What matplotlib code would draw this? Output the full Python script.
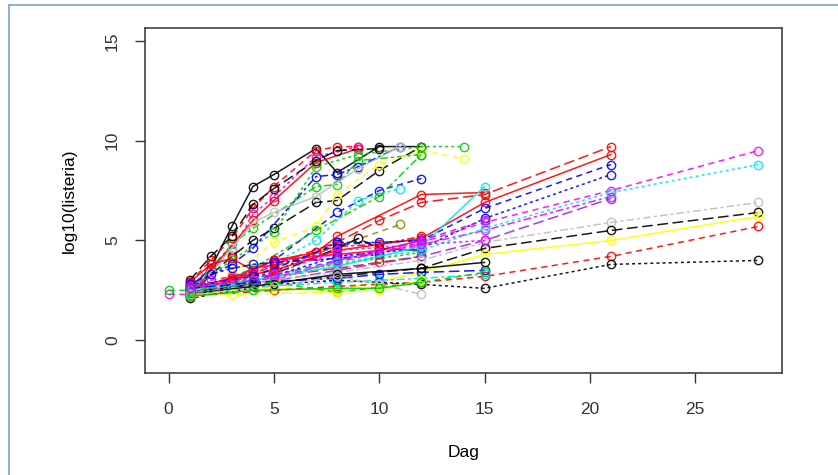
import numpy as np
import matplotlib
matplotlib.use("Agg")
import matplotlib.pyplot as plt
from matplotlib.lines import Line2D

plt.rcParams['font.family'] = ['Liberation Sans', 'DejaVu Sans']

# sampling days (common grid); nan = not measured for that sample
dag = [0, 1, 2, 3, 4, 5, 7, 8, 9, 10, 11, 12, 14, 15, 21, 28]
n = np.nan

# ---- fast growers (reach ~9.7 by day 7-14)
f1 = [n, 2.6, 3.6, 5.7, 7.7, 8.3, 9.6, 8.4, n, 9.7, n, 9.7, n, n, n, n]
f2 = [n, 2.9, 4.0, 5.1, 6.6, 7.7, 9.5, 9.7, 9.7, n, n, n, n, n, n, n]
f3 = [n, 2.5, 3.8, 4.5, 6.3, 7.2, 9.2, n, 9.7, n, n, n, n, n, n, n]
f4 = [n, 2.4, n, 4.8, 5.6, n, 7.7, 7.8, 9.0, n, n, 9.3, n, n, n, n]
f5 = [n, 2.3, n, 4.2, 5.0, 5.6, 6.9, 7.0, n, 8.5, n, 9.7, n, n, n, n]
f6 = [n, 2.2, 3.5, n, 6.0, 7.0, 8.9, n, 9.6, n, n, n, n, n, n, n]
f7 = [n, 2.4, n, 3.3, n, 4.9, 5.7, 7.3, n, 8.8, n, 9.5, 9.1, n, n, n]
f8 = [n, 2.5, n, 4.0, n, 5.4, 8.7, n, 9.3, n, n, 9.7, 9.7, n, n, n]
f9 = [n, 2.7, n, 3.8, 4.6, n, 8.2, 8.3, 8.7, n, 9.7, n, n, n, n, n]
f10 = [n, 3.0, 4.2, 5.2, 6.8, 7.6, 9.0, 9.5, n, 9.6, n, n, n, n, n, n]
f11 = [n, 2.6, 3.4, 4.6, 5.9, 6.4, 7.2, n, 8.6, n, 9.7, n, n, n, n, n]

# ---- intermediate growers
m1 = [n, 2.5, n, 3.0, n, 4.0, n, 6.4, n, 7.5, n, 8.1, n, n, n, n]
m2 = [n, 2.4, n, n, 3.3, n, 5.0, n, 7.0, n, 7.6, n, n, n, n, n]
m3 = [n, 2.3, n, n, 3.6, n, 5.5, n, n, 7.2, n, 9.3, n, n, n, n]
m4 = [n, 2.5, n, n, n, 3.8, n, 4.9, n, 6.0, n, 6.9, n, 7.3, 9.7, n]
m5 = [n, 2.2, n, n, n, 4.0, 4.4, 5.2, n, n, n, 7.3, n, 7.4, n, n]
m6 = [n, 2.3, n, 2.8, n, 3.6, n, n, n, n, 5.8, n, n, n, n, n]
m7 = [n, 2.8, n, 3.0, n, 3.4, n, 4.9, n, 4.9, n, 5.0, n, n, n, n]
m8 = [n, 2.5, n, 3.0, n, 3.7, 4.4, 4.7, n, 4.8, n, 5.2, n, n, n, n]
m9 = [n, 2.6, n, n, 2.9, n, n, 4.6, 5.1, 4.6, n, 4.5, n, n, n, n]
m10 = [n, 2.9, 3.8, 4.1, 3.5, 4.0, n, 4.3, n, 4.5, n, 5.0, n, n, n, n]
m11 = [n, 2.7, 3.0, 3.2, 3.4, 3.9, 4.2, n, n, 4.4, n, 4.7, n, n, n, n]
m12 = [n, 2.4, 2.6, 2.9, 3.1, 3.3, n, 3.8, n, 4.1, n, 4.4, n, n, n, n]
m13 = [n, 2.8, 3.3, 3.6, 3.8, 3.9, n, 4.1, n, 4.3, n, n, n, n, n, n]
m14 = [n, 2.2, 2.5, 3.0, 3.3, 3.2, n, 3.6, n, 3.9, n, 4.2, n, n, n, n]

# ---- slow growers (followed to day 15, 21 or 28)
s1 = [n, 2.6, n, 3.1, n, 3.5, n, 4.5, n, n, n, 5.1, n, 6.9, 9.3, n]
s2 = [n, 2.7, n, n, 3.2, n, n, 4.8, n, n, n, 5.0, n, 6.6, 8.8, n]
s3 = [n, 2.5, n, n, 2.9, n, n, 4.2, n, n, n, 4.6, n, 6.1, 8.3, n]
s4 = [n, 2.4, n, n, n, 3.0, n, 4.0, n, n, n, 4.8, n, 5.5, 7.2, n]
s5 = [n, 2.3, n, n, 2.8, n, n, 3.5, n, n, n, 4.2, n, 5.0, 7.1, n]
s6 = [n, 2.5, n, n, 3.0, n, n, 3.7, n, n, n, 4.7, n, 7.7, n, n]
s7 = [2.3, 2.3, n, n, 2.9, n, n, 3.9, n, n, n, 4.9, n, 5.9, 7.5, 9.5]
s8 = [n, 2.6, n, n, 3.0, n, n, 3.9, n, n, n, 4.5, n, 5.6, 7.4, 8.8]
s9 = [n, 2.5, n, n, 2.9, n, n, 3.4, n, n, n, 4.0, n, 4.9, 5.9, 6.9]
s10 = [n, 2.4, n, n, 2.8, n, n, 3.2, n, n, n, 3.6, n, 4.6, 5.5, 6.4]
s11 = [n, 2.3, n, n, n, 2.6, n, 2.5, n, n, n, 3.4, n, 4.3, 5.0, 6.2]
s12 = [n, 2.2, n, n, n, 2.5, n, 2.7, n, n, n, 2.9, n, 3.2, 4.2, 5.7]
s13 = [n, 2.1, n, n, n, 2.8, n, 3.0, n, 2.9, n, 2.8, n, 2.6, 3.8, 4.0]
s14 = [n, 2.4, n, 2.6, n, n, n, 2.9, n, 3.0, n, 3.1, n, 3.3, n, n]
s15 = [n, 2.6, n, n, 2.9, n, n, 3.1, n, 3.3, n, 3.4, n, 3.5, n, n]
s16 = [n, 2.3, n, n, 2.7, n, n, 3.3, n, n, n, 3.6, n, 3.9, n, n]
s17 = [2.5, 2.5, n, n, n, 2.9, n, 2.4, n, n, n, 2.9, n, 3.4, n, n]
s18 = [n, 2.7, n, n, n, 3.3, n, 4.5, n, n, n, 4.8, n, 5.0, n, n]
s19 = [n, 2.3, n, n, n, 2.7, n, 3.2, n, 2.8, n, 2.3, n, n, n, n]
s20 = [n, 2.2, n, 2.3, n, n, n, 2.4, n, 2.5, n, 3.0, n, n, n, n]
s21 = [n, 2.2, n, n, 2.5, n, n, 2.6, n, 2.6, n, 2.9, n, n, n, n]
s22 = [n, 2.6, n, n, 3.0, n, n, 4.0, n, n, n, 5.0, n, 6.0, n, n]

series = [f1, f2, f3, f4, f5, f6, f7, f8, f9, f10, f11,
          m1, m2, m3, m4, m5, m6, m7, m8, m9, m10, m11, m12, m13, m14,
          s1, s2, s3, s4, s5, s6, s7, s8, s9, s10, s11, s12, s13, s14,
          s15, s16, s17, s18, s19, s20, s21, s22]
colors = ["black", "red", "magenta", "green3", "black", "red", "yellow", "green3", "blue", "black", "gray",
          "blue", "cyan", "green3", "red", "red", "olive", "blue", "red", "black", "red",
          "magenta", "green3", "blue", "red",
          "red", "blue", "blue", "magenta", "purple", "cyan", "magenta", "cyan", "gray", "black", "yellow",
          "red", "black", "cyan", "blue", "black", "green3", "magenta", "gray", "yellow", "green3", "purple"]

rcol = {"black": "#000000", "red": "#FF0000", "green3": "#00CD00", "blue": "#0000FF",
        "cyan": "#00E5EE", "magenta": "#FF00FF", "yellow": "#FFFF00", "gray": "#BEBEBE",
        "olive": "#8B8B00", "purple": "#A020F0"}
ltys = ["-", (0, (4, 3)), (0, (2, 2)), (0, (2, 2, 5, 2)), (0, (7, 3))]

fig = plt.figure(figsize=(8.38, 4.75), dpi=100)
ax = fig.add_axes([145/838, 1 - 373/475, (782-145)/838, (373-28)/475])

x = np.array(dag, dtype=float)
for i, s in enumerate(series):
    y = np.array(s, dtype=float)
    ok = ~np.isnan(y)
    ax.plot(x[ok], y[ok], color=rcol[colors[i]], lw=1.1, ls=ltys[i % 5], alpha=0.9,
            marker="o", ms=6, mfc="none", mec=rcol[colors[i]], mew=1.0)

ax.set_xlim(-1.12, 29.12)
ax.set_ylim(-1.64, 15.64)
ax.set_xticks([0, 5, 10, 15, 20, 25])
ax.set_yticks([0, 5, 10, 15])
ax.set_yticklabels(["0", "5", "10", "15"], rotation=90, va="center")
ax.tick_params(labelsize=12.5, length=7, width=1, colors="#333333")
ax.tick_params(axis="x", pad=14)
ax.tick_params(axis="y", pad=11)
for sp in ax.spines.values():
    sp.set_linewidth(1.1)
    sp.set_color("#333333")
ax.set_xlabel("Dag", fontsize=12.5, labelpad=20)
ax.set_ylabel("log10(listeria)", fontsize=12.5, labelpad=20)

# light blue frame around the picture
fig.add_artist(Line2D([9/838, 1], [1 - 5/475, 1 - 5/475], color="#8FB3D4", lw=1.5))
fig.add_artist(Line2D([9/838, 9/838], [0, 1 - 5/475], color="#8FB3D4", lw=1.5))

fig.savefig("out.png", dpi=100)
